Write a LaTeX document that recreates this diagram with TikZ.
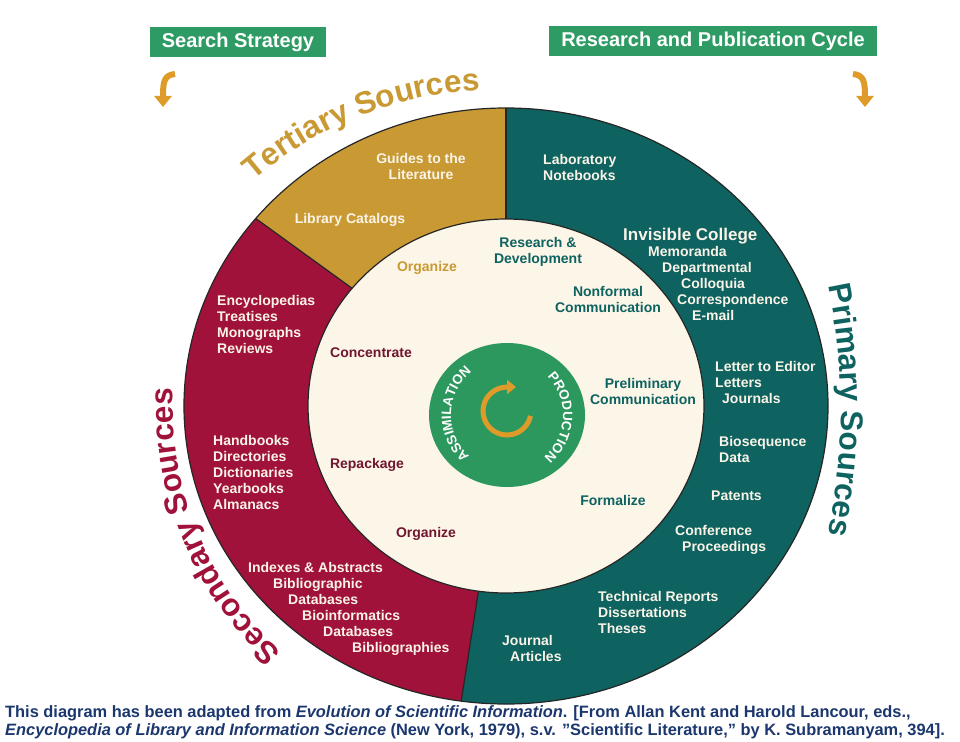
\documentclass[tikz,border=0pt]{standalone}
\usepackage{fontspec}
\setmainfont{Liberation Sans}
\usetikzlibrary{calc,arrows.meta,decorations.text}
\definecolor{tertGold}{RGB}{201,154,52}
\definecolor{secRed}{RGB}{160,18,58}
\definecolor{primTeal}{RGB}{14,98,95}
\definecolor{creamBg}{RGB}{252,246,232}
\definecolor{hubGreen}{RGB}{44,152,94}
\definecolor{headGreen}{RGB}{46,155,100}
\definecolor{arrOrange}{RGB}{222,155,42}
\definecolor{capBlue}{RGB}{27,55,110}
\definecolor{darkRed}{RGB}{112,22,48}
\definecolor{paleText}{RGB}{250,244,232}

\begin{document}
\begin{tikzpicture}[x=1pt,y=1pt,
  srcText/.style={font=\fontsize{14}{16}\selectfont\bfseries,text=paleText,inner sep=0pt,anchor=base west},
  midText/.style={font=\fontsize{14}{16}\selectfont\bfseries,inner sep=0pt,align=center},
  header/.style={fill=headGreen,text=white,font=\fontsize{20}{24}\selectfont\bfseries,minimum height=30pt,inner sep=0pt},
  curlArrow/.style={arrOrange,line width=6pt,-{Triangle[width=17pt,length=11pt]}},
  rim/.style={draw=black!85,line width=1.2pt},
  capText/.style={text=capBlue,font=\fontsize{16.4}{19}\selectfont\bfseries,inner sep=0pt,anchor=base west}]
\useasboundingbox[fill=white] (0,0) rectangle (960,-741);

\node[header,minimum width=176pt] (search) at (238,-42) {Search Strategy};
\node[header,minimum width=328pt] (cycle) at (713,-41.5) {Research and Publication Cycle};
\coordinate (sTop) at (175,-74);
\coordinate (sEnd) at (163,-107);
\coordinate (cTop) at (853,-74);
\coordinate (cEnd) at (865,-107);
\draw[curlArrow] (sTop) .. controls (164,-75) and (163,-82) .. (sEnd);
\draw[curlArrow] (cTop) .. controls (864,-75) and (865,-82) .. (cEnd);

\coordinate (c) at (506,-406);
\fill[primTeal] ($(c)+(90:322 and 298)$) arc[start angle=90,end angle=-98,x radius=322,y radius=298]
  -- ($(c)+(-98:198 and 187)$) arc[start angle=-98,end angle=90,x radius=198,y radius=187] -- cycle;
\fill[tertGold] ($(c)+(141:322 and 298)$) arc[start angle=141,end angle=90,x radius=322,y radius=298]
  -- ($(c)+(90:198 and 187)$) arc[start angle=90,end angle=141,x radius=198,y radius=187] -- cycle;
\fill[secRed] ($(c)+(262:322 and 298)$) arc[start angle=262,end angle=141,x radius=322,y radius=298]
  -- ($(c)+(141:198 and 187)$) arc[start angle=141,end angle=262,x radius=198,y radius=187] -- cycle;
\draw[rim] (c) ellipse[x radius=322,y radius=298];
\draw[rim,fill=creamBg] (c) ellipse[x radius=198,y radius=187];
\foreach \a in {90,141,262}
  \draw[rim] ($(c)+(\a:198 and 187)$) -- ($(c)+(\a:322 and 298)$);

\fill[hubGreen] (507,-415) ellipse[x radius=78,y radius=72];
\draw[arrOrange,line width=5pt,shorten >=-9pt,-{Triangle[width=14pt,length=9pt]}]
  (507,-411) ++(-12:24) arc[start angle=-12,end angle=-270,radius=24];
\path[decorate,decoration={text along path,text align=center,text color=white,
  text={|\fontsize{13.5}{13.5}\selectfont\bfseries|ASSIMILATION}}]
  (507,-415) ++(235:56) arc[start angle=235,end angle=122,radius=56];
\path[decorate,decoration={text along path,text align=center,text color=white,
  text={|\fontsize{13.5}{13.5}\selectfont\bfseries|PRODUCTION}}]
  (507,-415) ++(52:56) arc[start angle=52,end angle=-57,radius=56];

\path[decorate,decoration={text along path,text align=center,text color=tertGold,
  text={|\fontsize{31.5}{31.5}\selectfont\bfseries|Tertiary Sources}}]
  (497,-463) ++(140:373) arc[start angle=140,end angle=83.4,radius=373];
\path[decorate,decoration={text along path,text align=center,text color=secRed,
  text={|\fontsize{31.5}{31.5}\selectfont\bfseries|Secondary Sources}}]
  (c) ++(240:333) arc[start angle=240,end angle=164.6,radius=333];
\path[decorate,decoration={text along path,text align=center,text color=primTeal,
  text={|\fontsize{31.5}{31.5}\selectfont\bfseries|Primary Sources}}]
  (241,-410) ++(15:600) arc[start angle=15,end angle=-15,radius=600];

\node[srcText,anchor=center,align=center] (guides) at (421,-166) {Guides to the\\Literature};
\node[srcText,anchor=base] (libcat) at (350,-223) {Library Catalogs};

\foreach \t/\x/\y [count=\i] in {Encyclopedias/217/300,Treatises/217/316,Monographs/217/332,Reviews/217/348,
  Handbooks/213/440,Directories/213/456,Dictionaries/213/472,Yearbooks/213/488,Almanacs/213/504,
  Indexes \& Abstracts/248/567,Bibliographic/273/583,Databases/288/599,Bioinformatics/302/615,
  Databases/323/631,Bibliographies/352/647}
  \node[srcText] (sec\i) at (\x,-\y-5) {\t};

\node[srcText,font=\fontsize{17}{20}\selectfont\bfseries] (invis) at (623,-240) {Invisible College};
\foreach \t/\x/\y [count=\i] in {Laboratory/543/159,Notebooks/543/175,Memoranda/648/251,Departmental/662/267,
  Colloquia/681/283,Correspondence/677/299,E-mail/692/315,Letter to Editor/715/366,Letters/715/382,
  Journals/722/398,Biosequence/719/441,Data/719/457,Patents/711/495,Conference/675/530,
  Proceedings/682/546,Technical Reports/598/596,Dissertations/598/612,Theses/598/628,
  Journal/502/640,Articles/510/656}
  \node[srcText] (pri\i) at (\x,-\y-5) {\t};

\node[midText,text=tertGold] (orgTop) at (427,-268) {Organize};
\node[midText,text=primTeal] (rnd) at (538,-252) {Research \&\\Development};
\node[midText,text=primTeal] (nonform) at (608,-299) {Nonformal\\Communication};
\node[midText,text=darkRed] (concen) at (371,-353) {Concentrate};
\node[midText,text=primTeal] (prelim) at (643,-391) {Preliminary\\Communication};
\node[midText,text=darkRed] (repack) at (367,-465) {Repackage};
\node[midText,text=primTeal] (formal) at (613,-500) {Formalize};
\node[midText,text=darkRed] (orgBot) at (426,-534) {Organize};

\node[capText] (capA) at (5,-717) {This diagram has been adapted from \textit{Evolution of Scientific Information}. [From Allan Kent and Harold Lancour, eds.,};
\node[capText] (capB) at (5,-735) {\textit{Encyclopedia of Library and Information Science} (New York, 1979), s.v. \symbol{34}Scientific Literature,” by K. Subramanyam, 394].};
\end{tikzpicture}
\end{document}
